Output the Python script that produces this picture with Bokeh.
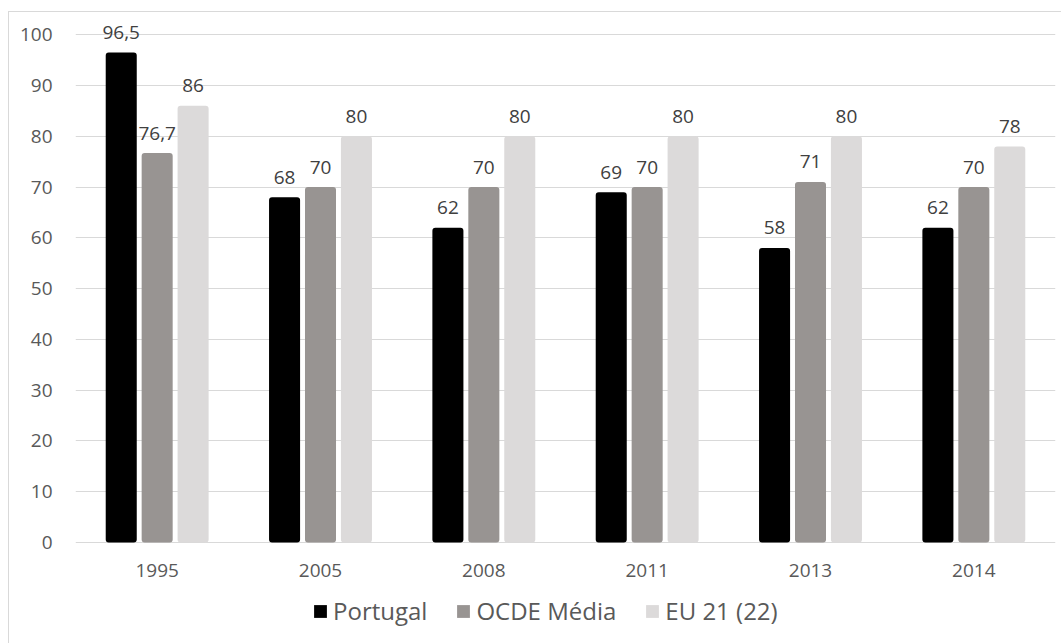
from bokeh.plotting import figure
from bokeh.models import FactorRange, Range1d, FixedTicker, Legend, LegendItem, ColumnDataSource
from bokeh.transform import dodge
from bokeh.core.properties import value
from bokeh.embed import file_html
from bokeh.resources import INLINE

years = ["1995", "2005", "2008", "2011", "2013", "2014"]
series_names = ["Portugal", "OCDE Média", "EU 21 (22)"]
portugal = [96.5, 68, 62, 69, 58, 62]
ocde = [76.7, 70, 70, 70, 71, 70]
eu = [86, 80, 80, 80, 80, 78]
y_ticks = [0, 10, 20, 30, 40, 50, 60, 70, 80, 90, 100]

colors = ["#000000", "#989492", "#dcdada"]
offsets = [-0.22, 0.0, 0.22]
FONT = "Open Sans"


def fmt(v):
    s = ("%g" % v)
    return s.replace(".", ",")


data = {"year": years, "base": [0] * len(years)}
series = [portugal, ocde, eu]
keys = ["s0", "s1", "s2"]
for k, vals in zip(keys, series):
    data[k] = vals
    data[k + "_lab"] = [fmt(v) for v in vals]
src = ColumnDataSource(data)

p = figure(x_range=FactorRange(*years), y_range=Range1d(-19.5, 103),
           width=1053, height=632, output_backend="svg", toolbar_location=None,
           min_border_left=66, min_border_right=7, min_border_top=7, min_border_bottom=3)
p.margin = (11, 0, 0, 8)
p.styles = {"border-left": "1px solid #d9d9d9", "border-top": "1px solid #d9d9d9"}
p.outline_line_color = None
p.background_fill_color = "white"
p.border_fill_color = "white"

renderers = []
for k, off, col in zip(keys, offsets, colors):
    r = p.vbar(x=dodge("year", off, range=p.x_range), top=k, width=0.19, source=src,
               fill_color=col, line_color=None, border_radius=3)
    renderers.append(r)
    p.text(x=dodge("year", off, range=p.x_range), y=k, text=k + "_lab", source=src,
           text_align="center", text_baseline="alphabetic", y_offset=-20,
           text_font=value(FONT), text_font_size="19px", text_color="#404040")

# category labels under the zero line
p.text(x="year", y="base", text="year", source=src, text_align="center", text_baseline="top",
       y_offset=22, text_font=value(FONT), text_font_size="19px", text_color="#595959")

p.xaxis.visible = False
p.xgrid.grid_line_color = None
p.ygrid.grid_line_color = "#d9d9d9"
p.ygrid.grid_line_width = 1
p.yaxis.ticker = FixedTicker(ticks=y_ticks)
p.ygrid.ticker = FixedTicker(ticks=y_ticks)
p.yaxis.axis_line_color = None
p.yaxis.major_tick_line_color = None
p.yaxis.minor_tick_line_color = None
p.yaxis.major_label_standoff = 17
p.yaxis.major_label_text_font = FONT
p.yaxis.major_label_text_font_size = "19px"
p.yaxis.major_label_text_color = "#595959"

legend = Legend(items=[LegendItem(label=n, renderers=[r]) for n, r in zip(series_names, renderers)],
                orientation="horizontal", location=(237, 14),
                label_text_font=FONT, label_text_font_size="24px", label_text_color="#595959",
                glyph_width=16, glyph_height=16, label_standoff=5, spacing=28,
                border_line_color=None, background_fill_alpha=0, padding=0, margin=0)
p.add_layout(legend, "center")

open("out.html", "w").write(file_html(p, INLINE))
